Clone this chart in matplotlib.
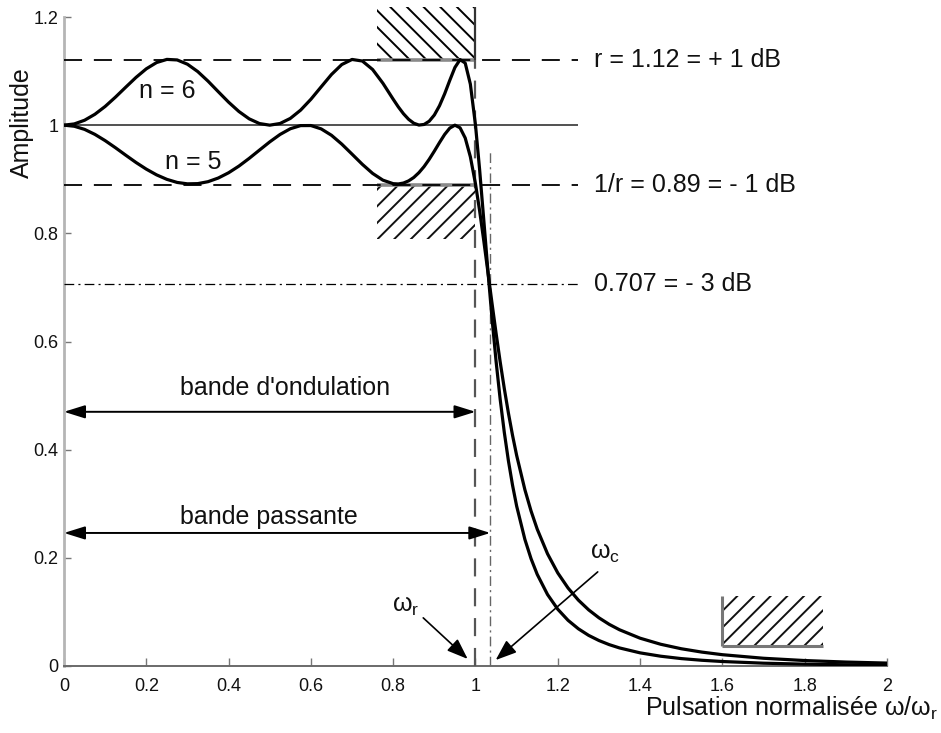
import matplotlib
matplotlib.use("Agg")
import matplotlib.pyplot as plt
from matplotlib.patches import Rectangle

plt.rcParams['font.family'] = ['Liberation Sans', 'DejaVu Sans']
plt.rcParams['mathtext.fontset'] = 'custom'
plt.rcParams['mathtext.rm'] = 'Liberation Sans'
plt.rcParams['mathtext.it'] = 'Liberation Sans:italic'
plt.rcParams['hatch.linewidth'] = 1.4
plt.rcParams['lines.scale_dashes'] = False

# ---------------- data ----------------
omega = [0.0, 0.025, 0.05, 0.075, 0.1, 0.125, 0.15, 0.175, 0.2, 0.225, 0.25, 0.275,
         0.3, 0.325, 0.35, 0.375, 0.4, 0.425, 0.45, 0.475, 0.5, 0.525, 0.55, 0.575,
         0.6, 0.625, 0.65, 0.675, 0.7, 0.725, 0.75, 0.775, 0.8, 0.8125, 0.825, 0.8375,
         0.85, 0.8625, 0.875, 0.8875, 0.9, 0.9125, 0.925, 0.9375, 0.95, 0.9625, 0.975,
         0.9875, 1.0, 1.01, 1.02, 1.03, 1.04, 1.05, 1.06, 1.07, 1.08, 1.09, 1.1, 1.12,
         1.135, 1.15, 1.175, 1.2, 1.225, 1.25, 1.275, 1.3, 1.325, 1.35, 1.4, 1.45, 1.5,
         1.55, 1.6, 1.7, 1.8, 1.9, 2.0]

amp_n5 = [1.0000, 0.9980, 0.9922, 0.9830, 0.9714, 0.9583, 0.9445, 0.9310, 0.9187, 0.9081,
          0.8998, 0.8941, 0.8915, 0.8919, 0.8955, 0.9023, 0.9120, 0.9243, 0.9386, 0.9539,
          0.9691, 0.9828, 0.9934, 0.9992, 0.9993, 0.9931, 0.9813, 0.9650, 0.9464, 0.9276,
          0.9108, 0.8983, 0.8918, 0.8913, 0.8930, 0.8970, 0.9033, 0.9122, 0.9234, 0.9369,
          0.9520, 0.9678, 0.9828, 0.9946, 1.0000, 0.9951, 0.9763, 0.9416, 0.8913, 0.8418,
          0.7869, 0.7293, 0.6714, 0.6153, 0.5622, 0.5129, 0.4676, 0.4265, 0.3894, 0.3260,
          0.2866, 0.2530, 0.2075, 0.1720, 0.1441, 0.1218, 0.1038, 0.0891, 0.0770, 0.0670,
          0.0514, 0.0402, 0.0319, 0.0257, 0.0209, 0.0143, 0.0101, 0.0073, 0.0054]

amp_n6 = [1.0000, 1.0023, 1.0091, 1.0201, 1.0346, 1.0518, 1.0702, 1.0883, 1.1042, 1.1158,
          1.1216, 1.1206, 1.1127, 1.0991, 1.0814, 1.0618, 1.0425, 1.0253, 1.0117, 1.0030,
          1.0000, 1.0031, 1.0125, 1.0278, 1.0479, 1.0709, 1.0937, 1.1121, 1.1215, 1.1186,
          1.1029, 1.0775, 1.0479, 1.0337, 1.0211, 1.0108, 1.0036, 1.0002, 1.0013, 1.0073,
          1.0188, 1.0359, 1.0579, 1.0829, 1.1067, 1.1212, 1.1148, 1.0759, 1.0000, 0.9179,
          0.8258, 0.7323, 0.6437, 0.5635, 0.4929, 0.4319, 0.3793, 0.3343, 0.2957, 0.2341,
          0.1984, 0.1694, 0.1322, 0.1049, 0.0844, 0.0688, 0.0566, 0.0471, 0.0395, 0.0334,
          0.0243, 0.0181, 0.0137, 0.0106, 0.0083, 0.0052, 0.0034, 0.0023, 0.0016]

ripple_hi = 1.12
ripple_lo = 0.89
half_power = 0.707
unity = 1.0
omega_r = 1.0
omega_c = 1.036
ref_line_end = 1.248

level_labels = ['r = 1.12 = + 1 dB', '1/r = 0.89 = - 1 dB', '0.707 = - 3 dB']

xticks = [0, 0.2, 0.4, 0.6, 0.8, 1.0, 1.2, 1.4, 1.6, 1.8, 2.0]
xtick_labels = ['0', '0.2', '0.4', '0.6', '0.8', '1', '1.2', '1.4', '1.6', '1.8', '2']
yticks = [0, 0.2, 0.4, 0.6, 0.8, 1.0, 1.2]
ytick_labels = ['0', '0.2', '0.4', '0.6', '0.8', '1', '1.2']

# templates (forbidden regions)
tpl_pass_x = (0.76, 1.0)
tpl_upper_y = (1.12, 1.218)
tpl_lower_y = (0.79, 0.89)
tpl_stop_x = (1.6, 1.844)
tpl_stop_y = (0.037, 0.13)

# ---------------- figure ----------------
W, H = 941, 733
fig = plt.figure(figsize=(W / 100, H / 100), dpi=100)
ax = fig.add_axes([64 / W, 67 / H, 823 / W, 649 / H])
ax.set_xlim(0, 2)
ax.set_ylim(0, 1.2)

for s in ('top', 'right'):
    ax.spines[s].set_visible(False)
ax.spines['left'].set_color('#b5b5b5')
ax.spines['left'].set_linewidth(2.0)
ax.spines['bottom'].set_color('#6a6a6a')
ax.spines['bottom'].set_linewidth(1.4)

ax.set_xticks(xticks)
ax.set_xticklabels(xtick_labels)
ax.set_yticks(yticks)
ax.set_yticklabels(ytick_labels)
ax.tick_params(direction='in', length=5, width=1, colors='#777777',
               labelcolor='#111111', labelsize=13)
ax.tick_params(axis='x', pad=8.5, length=6)
ax.tick_params(axis='y', pad=4)

FS = 18
dash = (0, (13, 8.5))
dashdot = (0, (7, 3, 1.5, 3))

# reference levels
ax.hlines(ripple_hi, 0, ref_line_end, colors='black', lw=1.3, linestyles=[dash], zorder=3)
ax.hlines(unity, 0, ref_line_end, colors='#333333', lw=1.2, zorder=3)
ax.hlines(ripple_lo, 0, ref_line_end, colors='black', lw=1.3, linestyles=[dash], zorder=3)
ax.hlines(half_power, 0, ref_line_end, colors='black', lw=0.9, linestyles=[dashdot], zorder=3)

for yv, lab in zip([ripple_hi, ripple_lo, half_power], level_labels):
    ax.text(1.287, yv, lab, fontsize=FS, ha='left', va='center', color='#111111')

# vertical markers
ax.vlines(omega_r, 0, ripple_hi, colors='#555555', lw=1.6, linestyles=[dash], zorder=3)
ax.vlines(omega_c, 0, 0.95, colors='#666666', lw=1.0, linestyles=[dashdot], zorder=3)

# hatched templates
ax.add_patch(Rectangle((tpl_pass_x[0], tpl_upper_y[0]), tpl_pass_x[1] - tpl_pass_x[0],
                       tpl_upper_y[1] - tpl_upper_y[0], fill=False, lw=0,
                       edgecolor='black', hatch='\\\\', clip_on=False, zorder=2))
ax.add_patch(Rectangle((tpl_pass_x[0], tpl_lower_y[0]), tpl_pass_x[1] - tpl_pass_x[0],
                       tpl_lower_y[1] - tpl_lower_y[0], fill=False, lw=0,
                       edgecolor='#111111', hatch='//', clip_on=False, zorder=2))
ax.add_patch(Rectangle((tpl_stop_x[0], tpl_stop_y[0]), tpl_stop_x[1] - tpl_stop_x[0],
                       tpl_stop_y[1] - tpl_stop_y[0], fill=False, lw=0,
                       edgecolor='#111111', hatch='//', clip_on=False, zorder=2))
ax.hlines(ripple_hi, tpl_pass_x[0], tpl_pass_x[1], colors='#8a8a8a', lw=2.6, zorder=2)
ax.hlines(ripple_lo, tpl_pass_x[0], tpl_pass_x[1], colors='#8a8a8a', lw=2.6, zorder=2)
ax.vlines(omega_r, tpl_upper_y[0], tpl_upper_y[1], colors='#333333', lw=1.6, zorder=3,
          clip_on=False)
ax.vlines(tpl_stop_x[0], tpl_stop_y[0], tpl_stop_y[1], colors='#777777', lw=2.2, zorder=2)
ax.hlines(tpl_stop_y[0], tpl_stop_x[0], tpl_stop_x[1], colors='#777777', lw=2.2, zorder=2)

# responses
ax.plot(omega, amp_n6, color='black', lw=2.3, zorder=5, solid_capstyle='round',
        solid_joinstyle='round')
ax.plot(omega, amp_n5, color='black', lw=2.3, zorder=5, solid_capstyle='round',
        solid_joinstyle='round')

ax.text(0.25, 1.063, 'n = 6', fontsize=FS, ha='center', va='center', color='#111111')
ax.text(0.314, 0.932, 'n = 5', fontsize=FS, ha='center', va='center', color='#111111')

# band arrows
dbl = dict(arrowstyle='<|-|>,head_length=0.8,head_width=0.25', color='black',
           lw=1.4, shrinkA=0, shrinkB=0, mutation_scale=16)
ax.annotate('', xy=(0, 0.47), xytext=(omega_r, 0.47), arrowprops=dbl)
ax.annotate('', xy=(0, 0.246), xytext=(omega_c, 0.246), arrowprops=dbl)
ax.text(0.282, 0.501, "bande d'ondulation", fontsize=FS, ha='left', va='baseline',
        color='#111111')
ax.text(0.282, 0.262, 'bande passante', fontsize=FS, ha='left', va='baseline',
        color='#111111')

# omega markers
sgl = dict(arrowstyle='-|>,head_length=0.8,head_width=0.3', color='black', lw=1.2,
           shrinkA=0, shrinkB=0, mutation_scale=16)
ax.annotate('', xy=(0.981, 0.013), xytext=(0.873, 0.089), arrowprops=sgl)
ax.annotate('', xy=(1.049, 0.011), xytext=(1.297, 0.174), arrowprops=sgl)
ax.text(0.83, 0.111, r'$\mathrm{\omega}_{\mathrm{r}}$', fontsize=FS, ha='center',
        va='center', color='#111111')
ax.text(1.316, 0.209, r'$\mathrm{\omega}_{\mathrm{c}}$', fontsize=FS, ha='center',
        va='center', color='#111111')

# axis labels
ax.set_ylabel('Amplitude', fontsize=FS, color='#111111')
ax.yaxis.set_label_coords(-0.036, 0.838)
ax.set_xlabel(r'Pulsation normalisée $\mathrm{\omega/\omega}_{\mathrm{r}}$', fontsize=FS,
              color='#111111', loc='right')
ax.xaxis.set_label_coords(1.062, -0.045)

fig.savefig('out.png', dpi=100)
